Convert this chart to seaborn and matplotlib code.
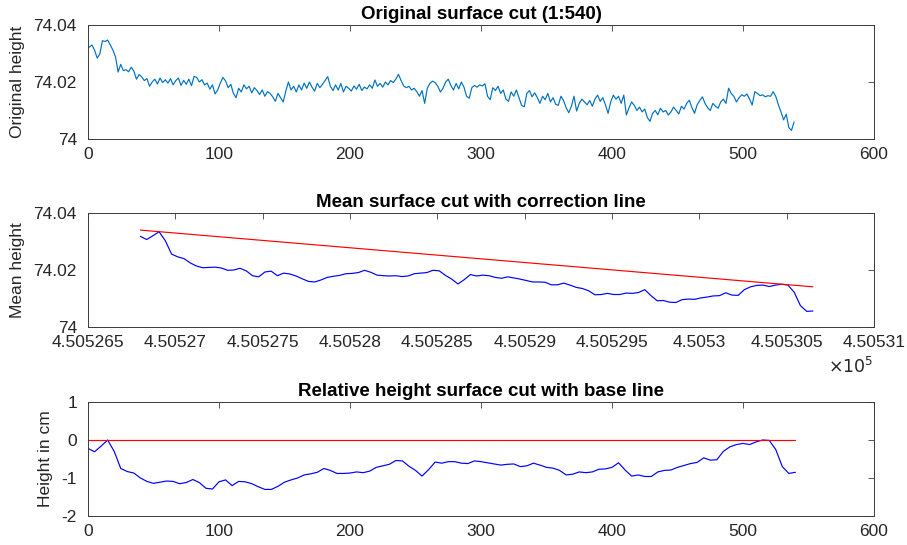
import numpy as np
import pandas as pd
import matplotlib
matplotlib.use("Agg")
import matplotlib.pyplot as plt
from matplotlib.ticker import FuncFormatter, FixedLocator
import seaborn as sns

# ---------------- data ----------------
# Original surface cut: heights at every 2nd sample (1, 3, ..., 539), in 1e-4 m above 74 m
orig_offset_e4 = [
    322, 330, 312, 284, 298, 345, 342, 347, 330, 312,
    288, 235, 262, 240, 243, 236, 252, 238, 210, 226,
    218, 205, 212, 185, 200, 210, 193, 214, 198, 208,
    196, 212, 190, 205, 214, 188, 206, 192, 210, 187,
    220, 216, 200, 208, 190, 196, 175, 190, 158, 172,
    196, 216, 204, 180, 192, 160, 145, 178, 165, 190,
    176, 185, 162, 180, 170, 156, 172, 150, 166, 160,
    148, 132, 160, 145, 130, 168, 200, 172, 185, 165,
    190, 172, 196, 178, 200, 182, 168, 195, 180, 192,
    205, 219, 185, 170, 190, 172, 195, 165, 185, 178,
    168, 186, 175, 192, 170, 182, 176, 190, 178, 207,
    185, 195, 182, 200, 190, 205, 198, 210, 227, 205,
    186, 180, 185, 172, 178, 166, 150, 170, 125, 178,
    195, 203, 198, 185, 165, 178, 200, 210, 188, 172,
    195, 176, 200, 182, 150, 143, 180, 188, 182, 190,
    186, 194, 150, 138, 180, 170, 185, 160, 172, 140,
    132, 165, 150, 172, 145, 118, 113, 160, 170, 148,
    162, 145, 125, 150, 138, 160, 130, 145, 122, 118,
    150, 135, 110, 92, 115, 150, 98, 125, 140, 130,
    120, 135, 115, 140, 154, 132, 145, 120, 90, 130,
    154, 140, 150, 125, 154, 84, 110, 130, 118, 100,
    112, 95, 105, 75, 62, 90, 100, 85, 108, 95,
    100, 84, 95, 112, 100, 88, 115, 105, 125, 136,
    110, 90, 120, 135, 148, 125, 110, 100, 125, 115,
    108, 130, 140, 125, 178, 160, 150, 130, 145, 155,
    150, 158, 140, 119, 166, 160, 152, 155, 148, 152,
    150, 166, 150, 120, 95, 67, 87, 40, 30, 60,
]
orig_index = np.arange(1, 540, 2)

# Mean surface cut: every 5th sample (0, 5, ..., 540), in 1e-4 m above 74 m
mean_offset_e4 = [
    318, 307, 320, 334, 303, 256, 246, 240, 225, 214,
    208, 209, 210, 207, 199, 200, 206, 197, 180, 176,
    193, 196, 180, 189, 186, 179, 169, 160, 158, 165,
    174, 178, 181, 187, 188, 191, 199, 192, 182, 180,
    179, 180, 177, 179, 187, 189, 191, 199, 197, 181,
    168, 151, 166, 184, 179, 182, 180, 174, 171, 176,
    172, 168, 163, 158, 158, 157, 148, 148, 154, 147,
    139, 135, 127, 113, 114, 118, 114, 114, 119, 118,
    121, 131, 110, 92, 93, 87, 86, 96, 98, 97,
    102, 105, 109, 110, 120, 112, 111, 131, 141, 146,
    147, 142, 147, 150, 147, 122, 75, 55, 56,
]
easting_start, easting_end = 450526.80, 450530.65
correction_easting = [450526.80, 450530.65]
correction_height = [74.0340, 74.0141]

# Relative height (cm) at every 5th sample (0, 5, ..., 540)
rel_height_cm = [
    -0.22, -0.31, -0.16, 0.00, -0.30, -0.75, -0.83, -0.87, -1.00, -1.09,
    -1.14, -1.11, -1.08, -1.09, -1.15, -1.12, -1.04, -1.12, -1.27, -1.29,
    -1.10, -1.05, -1.20, -1.09, -1.10, -1.15, -1.23, -1.30, -1.30, -1.22,
    -1.11, -1.05, -1.00, -0.92, -0.89, -0.85, -0.75, -0.80, -0.88, -0.88,
    -0.87, -0.84, -0.86, -0.82, -0.72, -0.68, -0.64, -0.54, -0.55, -0.69,
    -0.80, -0.95, -0.78, -0.58, -0.61, -0.57, -0.57, -0.61, -0.62, -0.55,
    -0.57, -0.60, -0.63, -0.66, -0.64, -0.63, -0.70, -0.68, -0.61, -0.66,
    -0.72, -0.74, -0.80, -0.92, -0.90, -0.84, -0.86, -0.84, -0.77, -0.76,
    -0.72, -0.60, -0.79, -0.95, -0.92, -0.96, -0.96, -0.84, -0.80, -0.79,
    -0.72, -0.67, -0.62, -0.59, -0.47, -0.53, -0.52, -0.30, -0.18, -0.12,
    -0.09, -0.12, -0.05, 0.00, -0.01, -0.25, -0.70, -0.88, -0.85,
]
sample_index = np.arange(0, 541, 5)
base_index = [0, 540]
base_height = [0, 0]

orig_df = pd.DataFrame({"x": orig_index, "y": 74 + np.array(orig_offset_e4) / 1e4})
mean_df = pd.DataFrame({"x": np.linspace(easting_start, easting_end, len(mean_offset_e4)),
                        "y": 74 + np.array(mean_offset_e4) / 1e4})
corr_df = pd.DataFrame({"x": correction_easting, "y": correction_height})
rel_df = pd.DataFrame({"x": sample_index, "y": rel_height_cm})
base_df = pd.DataFrame({"x": base_index, "y": base_height})

# ---------------- style ----------------
sns.set_theme(style="white")
plt.rcParams["font.family"] = ["Liberation Sans", "DejaVu Sans"]
GRAY = "#262626"
SPINE = "#3a3a3a"
TICK_FS = 12.5
LABEL_FS = 12.5
TITLE_FS = 13.5

fig = plt.figure(figsize=(9.07, 5.45), dpi=100)
W, H = 907, 545
def axes_at(left, top, right, bottom):
    return fig.add_axes([left / W, 1 - bottom / H, (right - left) / W, (bottom - top) / H])

ax1 = axes_at(88, 25, 874, 139)
ax2 = axes_at(88, 213, 874, 327)
ax3 = axes_at(88, 402, 874, 516)

lw = 0.85
sns.lineplot(data=orig_df, x="x", y="y", ax=ax1, color="#0072BD", lw=lw, estimator=None)
sns.lineplot(data=mean_df, x="x", y="y", ax=ax2, color="#0000FF", lw=lw, estimator=None)
sns.lineplot(data=corr_df, x="x", y="y", ax=ax2, color="#FF0000", lw=lw, estimator=None)
sns.lineplot(data=rel_df, x="x", y="y", ax=ax3, color="#0000FF", lw=lw, estimator=None)
sns.lineplot(data=base_df, x="x", y="y", ax=ax3, color="#FF0000", lw=lw, estimator=None)

gfmt = FuncFormatter(lambda v, p: f"{v:g}")

ax1.set_xlim(0, 600); ax1.set_ylim(74.0, 74.04)
ax1.xaxis.set_major_locator(FixedLocator([0, 100, 200, 300, 400, 500, 600]))
ax1.yaxis.set_major_locator(FixedLocator([74.0, 74.02, 74.04]))
ax1.yaxis.set_major_formatter(gfmt)

ax2.set_xlim(450526.5, 450531.0); ax2.set_ylim(74.0, 74.04)
ax2.xaxis.set_major_locator(FixedLocator(list(np.arange(450526.5, 450531.01, 0.5))))
ax2.xaxis.set_major_formatter(FuncFormatter(lambda v, p: f"{v/1e5:.7f}".rstrip("0").rstrip(".")))
ax2.yaxis.set_major_locator(FixedLocator([74.0, 74.02, 74.04]))
ax2.yaxis.set_major_formatter(gfmt)

ax3.set_xlim(0, 600); ax3.set_ylim(-2, 1)
ax3.xaxis.set_major_locator(FixedLocator([0, 100, 200, 300, 400, 500, 600]))
ax3.yaxis.set_major_locator(FixedLocator([-2, -1, 0, 1]))
ax3.yaxis.set_major_formatter(gfmt)

titles = ["Original surface cut (1:540)", "Mean surface cut with correction line",
          "Relative height surface cut with base line"]
ylabels = ["Original height", "Mean height", "Height in cm"]
for ax, t, yl in zip([ax1, ax2, ax3], titles, ylabels):
    ax.set_title(t, fontsize=TITLE_FS, fontweight="bold", color="black", pad=4)
    ax.set_xlabel("")
    ax.set_ylabel(yl, fontsize=LABEL_FS, color=GRAY, labelpad=6)
    ax.tick_params(direction="in", top=True, right=True, length=4, width=0.6,
                   colors=SPINE, labelcolor=GRAY, labelsize=TICK_FS)
    ax.tick_params(axis="x", pad=6)
    ax.tick_params(axis="y", pad=8)
    for s in ax.spines.values():
        s.set_visible(True)
        s.set_color(SPINE)
        s.set_linewidth(0.7)
    ax.set_facecolor("white")

fig.text(873 / W, 1 - 373 / H, r"$\times10^{5}$", ha="right", va="baseline",
         fontsize=TICK_FS, color=GRAY)

fig.savefig("out.png", dpi=100, facecolor="white")
